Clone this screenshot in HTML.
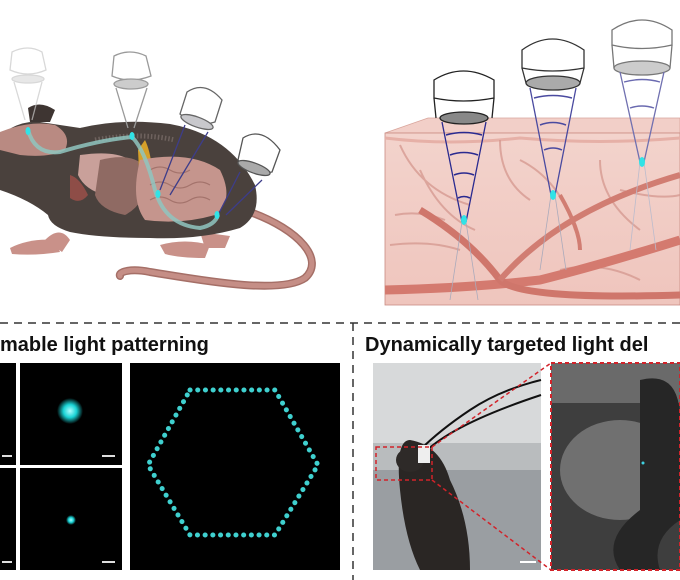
<!DOCTYPE html>
<html><head><meta charset="utf-8"><style>
html,body{margin:0;padding:0;background:#fff;width:680px;height:580px;overflow:hidden}
svg{display:block}
text{font-family:"Liberation Sans",Arial,sans-serif;font-weight:bold}
</style></head><body>
<svg width="680" height="580" viewBox="0 0 680 580" xmlns="http://www.w3.org/2000/svg">
<defs>
<radialGradient id="cy"><stop offset="0" stop-color="#aefcff"/><stop offset="0.5" stop-color="#19d3d6"/><stop offset="1" stop-color="#19d3d6" stop-opacity="0"/></radialGradient>
<linearGradient id="tis" x1="0" y1="0" x2="0" y2="1"><stop offset="0" stop-color="#f3d3cc"/><stop offset="1" stop-color="#efc5bd"/></linearGradient>
</defs>

<!-- ===== Mouse panel ===== -->
<!-- tail -->
<path d="M250 212 C300 230 325 260 305 278 C280 295 200 280 150 272 C130 268 118 272 120 276" fill="none" stroke="#a56f67" stroke-width="8" stroke-linecap="round"/>
<path d="M250 212 C300 230 325 260 305 278 C280 295 200 280 150 272 C130 268 118 272 120 276" fill="none" stroke="#c58e86" stroke-width="5" stroke-linecap="round"/>
<!-- paws -->
<path d="M10 248 Q30 238 55 240 L60 252 Q35 256 12 254Z" fill="#c99189"/>
<path d="M45 240 Q60 225 70 240 L62 252Z" fill="#c99189"/>
<path d="M160 245 Q185 238 210 245 L205 258 Q180 258 165 254Z" fill="#c99189"/>
<path d="M200 232 L230 236 L225 248 L205 248Z" fill="#c99189"/>
<!-- body -->
<path d="M0 135 Q20 120 40 122 Q60 125 80 128 Q120 118 170 124 Q230 135 255 185 Q262 215 240 228 Q200 240 150 238 Q100 238 70 232 Q50 226 48 215 Q30 200 0 190Z" fill="#4a413d"/>
<path d="M28 108 Q40 100 55 110 L50 122 L30 122Z" fill="#3e3532"/>
<!-- organs -->
<path d="M0 132 Q30 120 55 125 Q72 135 65 150 Q50 158 20 155 L0 150Z" fill="#b98a82"/>
<path d="M80 155 Q115 150 130 160 Q128 185 105 195 Q85 190 78 175Z" fill="#c9a09a"/>
<path d="M70 175 Q80 178 88 195 Q80 205 70 198Z" fill="#8e4d47"/>
<path d="M100 160 Q140 150 150 175 Q145 205 125 215 Q100 210 95 195Z" fill="#8f6a63"/>
<path d="M145 140 Q150 150 152 168 Q146 190 140 190 L138 150Z" fill="#d6a02a"/>
<path d="M140 160 Q190 150 220 170 Q235 200 215 215 Q180 225 145 220 Q130 200 140 160Z" fill="#c5958d"/>
<path d="M150 170 q10 -6 20 0 q10 6 20 0 M150 185 q10 -6 20 0 q10 6 20 0 q10 -6 20 0 M150 200 q10 -6 20 0 q10 6 20 0 q10 -6 20 0" fill="none" stroke="#a4736c" stroke-width="1.2"/>
<path d="M95 140 Q140 132 175 140" fill="none" stroke="#6e625e" stroke-width="5" stroke-dasharray="1.5 2"/>
<!-- fiber -->
<path d="M28 130 Q35 155 60 152 Q100 140 132 137 Q145 150 155 190 Q165 225 200 228 Q215 225 218 215" fill="none" stroke="#8fc6c0" stroke-width="4" opacity="0.85"/>
<!-- objectives -->
<g fill="none" stroke-width="1.3">
<g stroke="#c8c8c8" opacity="0.7"><path d="M12 52 Q28 44 42 52 L46 70 Q28 78 10 70Z" fill="#fff"/><ellipse cx="28" cy="79" rx="16" ry="4" fill="#ddd"/><path d="M14 82 L25 120 M42 82 L32 120"/></g>
<g stroke="#9a9a9a"><path d="M114 56 Q130 48 146 56 L151 76 Q130 84 112 76Z" fill="#fff"/><ellipse cx="131" cy="84" rx="17" ry="5" fill="#ccc"/><path d="M116 88 L128 128 M147 88 L134 128"/></g>
<g stroke="#666"><path d="M187 92 Q205 80 222 100 L215 122 Q196 128 180 114Z" fill="#fff"/><ellipse cx="197" cy="122" rx="17" ry="5" fill="#c8c8cc" transform="rotate(20 197 122)"/><path d="M185 125 L160 190 M208 132 L170 195" stroke="#3d3d8a"/></g>
<g stroke="#555"><path d="M243 138 Q262 126 280 150 L272 172 Q252 176 238 160Z" fill="#fff"/><ellipse cx="254" cy="168" rx="17" ry="5" fill="#aaa" transform="rotate(20 254 168)"/><path d="M240 172 L218 215 M262 180 L226 215" stroke="#3d3d8a"/></g>
</g>
<g fill="#31e3e6"><ellipse cx="28" cy="131" rx="2.5" ry="4"/><ellipse cx="132" cy="136" rx="2.5" ry="4"/><ellipse cx="158" cy="194" rx="2.5" ry="4"/><ellipse cx="217" cy="215" rx="2.5" ry="4"/></g>

<!-- ===== Tissue panel ===== -->
<path d="M385 133 L428 118 L680 118 L680 133Z" fill="#f2cfc8" stroke="#d9a59c" stroke-width="0.8"/>
<rect x="385" y="133" width="295" height="172" fill="url(#tis)" stroke="#c98b82" stroke-width="0.8"/>
<path d="M385 138 Q450 146 520 138 Q600 145 680 138" stroke="#e6b0a7" stroke-width="3" fill="none"/>
<g fill="none" stroke="#d69a91" stroke-width="2" opacity="0.8">
<path d="M400 145 Q420 190 470 205 M420 170 Q440 215 475 230 M390 245 Q430 240 460 250 M500 140 Q500 180 530 200 M520 160 Q560 180 575 230 M600 160 Q600 200 640 230 M620 190 Q660 200 680 195 M560 270 Q600 260 640 280 M395 215 Q420 210 445 220"/>
</g>
<path d="M385 290 Q470 288 540 280 Q600 265 680 240" fill="none" stroke="#d47a6f" stroke-width="9"/>
<path d="M420 210 Q470 240 500 280 Q520 300 680 295" fill="none" stroke="#cf766b" stroke-width="7"/>
<path d="M500 280 Q560 210 680 175" fill="none" stroke="#d17d72" stroke-width="6"/>
<path d="M560 195 Q580 230 580 250" fill="none" stroke="#d17d72" stroke-width="4"/>
<g fill="none" stroke-width="1.3">
<g stroke="#222"><path d="M434 80 Q463 62 494 80 L494 98 Q463 104 434 98Z" fill="#fff"/><ellipse cx="464" cy="118" rx="24" ry="6" fill="#888"/><path d="M434 98 L436 118 M494 98 L492 118"/>
<path d="M442 122 L462 222 M486 122 L466 222" stroke="#2a2a90"/><path d="M462 222 L450 300 M466 222 L478 300" stroke="#aab" stroke-width="0.8"/>
<path d="M446 135 Q464 130 482 135 M450 155 Q464 150 478 155 M454 175 Q464 171 474 175 M458 198 Q464 195 470 198" stroke="#2a2a90" stroke-width="1.6"/></g>
<g stroke="#333"><path d="M522 50 Q552 28 584 50 L584 68 Q552 74 522 68Z" fill="#fff"/><ellipse cx="553" cy="83" rx="27" ry="7" fill="#aaa"/><path d="M522 68 L526 83 M584 68 L580 83"/>
<path d="M530 88 L551 195 M576 88 L555 195" stroke="#4a4aa0"/><path d="M551 195 L540 270 M555 195 L566 270" stroke="#aab" stroke-width="0.8"/>
<path d="M534 98 Q553 93 572 98 M540 125 Q553 120 566 125 M544 150 Q553 146 562 150" stroke="#4a4aa0" stroke-width="1.5"/></g>
<g stroke="#777"><path d="M612 30 Q642 10 672 30 L672 45 Q642 52 612 45Z" fill="#fff"/><ellipse cx="642" cy="68" rx="28" ry="7" fill="#ccc"/><path d="M612 45 L614 68 M672 45 L670 68"/>
<path d="M620 72 L640 162 M664 72 L644 162" stroke="#7070b0"/><path d="M640 162 L630 250 M644 162 L656 250" stroke="#bbc" stroke-width="0.8"/>
<path d="M624 82 Q642 77 660 82 M630 108 Q642 104 654 108" stroke="#6a6ab0" stroke-width="1.4"/></g>
</g>
<g fill="#31e3e6"><ellipse cx="464" cy="220" rx="3" ry="5"/><ellipse cx="553" cy="195" rx="3" ry="5"/><ellipse cx="642" cy="162" rx="3" ry="5"/></g>

<!-- ===== dashed separators ===== -->
<line x1="0" y1="323" x2="680" y2="323" stroke="#333" stroke-width="1.5" stroke-dasharray="8 6"/>
<line x1="353" y1="323" x2="353" y2="580" stroke="#333" stroke-width="1.5" stroke-dasharray="8 6"/>
<text x="0" y="351" font-size="20" fill="#111">mable light patterning</text>
<text x="365" y="351" font-size="20" fill="#111">Dynamically targeted light del</text>

<!-- small panels -->
<rect x="0" y="363" width="16" height="102" fill="#000"/>
<rect x="0" y="468" width="16" height="102" fill="#000"/>
<rect x="20" y="363" width="102" height="102" fill="#000"/>
<rect x="20" y="468" width="102" height="102" fill="#000"/>
<circle cx="70" cy="411" r="13" fill="url(#cy)"/>
<circle cx="71" cy="520" r="5" fill="url(#cy)"/>
<g stroke="#ddd" stroke-width="2"><line x1="2" y1="456" x2="12" y2="456"/><line x1="2" y1="562" x2="12" y2="562"/><line x1="102" y1="456" x2="115" y2="456"/><line x1="102" y1="562" x2="115" y2="562"/><line x1="316" y1="562" x2="332" y2="562"/></g>
<!-- hexagon panel -->
<rect x="130" y="363" width="210" height="207" fill="#000"/>
<polygon points="190,390 275,390 318,465 275,535 190,535 148,465" fill="none" stroke="#3fd0cf" stroke-width="5" stroke-dasharray="0.1 7.6" stroke-linecap="round"/>

<!-- photos -->
<rect x="373" y="363" width="168" height="207" fill="#b9bcbe"/>
<rect x="373" y="363" width="168" height="80" fill="#d7d9da"/>
<rect x="373" y="470" width="168" height="100" fill="#9a9ea2"/>
<path d="M400 490 Q395 440 410 440 Q440 445 450 480 Q470 520 470 570 L420 570 Q405 540 400 490Z" fill="#2a2624"/>
<ellipse cx="410" cy="460" rx="14" ry="12" fill="#2e2a28"/>
<path d="M420 450 Q440 430 470 410 Q500 390 541 380" fill="none" stroke="#111" stroke-width="2"/>
<path d="M422 455 Q450 425 541 395" fill="none" stroke="#111" stroke-width="2"/>
<rect x="418" y="445" width="12" height="18" fill="#eee"/>
<rect x="376" y="447" width="56" height="33" fill="none" stroke="#d2232a" stroke-width="1.5" stroke-dasharray="4 3"/>
<line x1="432" y1="447" x2="551" y2="363" stroke="#d2232a" stroke-width="1.5" stroke-dasharray="4 3"/>
<line x1="432" y1="480" x2="551" y2="570" stroke="#d2232a" stroke-width="1.5" stroke-dasharray="4 3"/>
<line x1="520" y1="562" x2="536" y2="562" stroke="#fff" stroke-width="2"/>
<rect x="551" y="363" width="129" height="207" fill="#3e3e3e"/>
<rect x="551" y="363" width="129" height="40" fill="#6a6a6a"/>
<ellipse cx="620" cy="470" rx="60" ry="50" fill="#707070"/>
<path d="M640 380 Q680 370 680 420 L680 520 Q650 540 660 570 L620 570 Q600 540 640 510Z" fill="#262626"/>
<circle cx="643" cy="463" r="1.5" fill="#3fd0e0"/>
<rect x="551" y="363" width="129" height="207" fill="none" stroke="#d2232a" stroke-width="2" stroke-dasharray="4 3"/>
</svg>
</body></html>
